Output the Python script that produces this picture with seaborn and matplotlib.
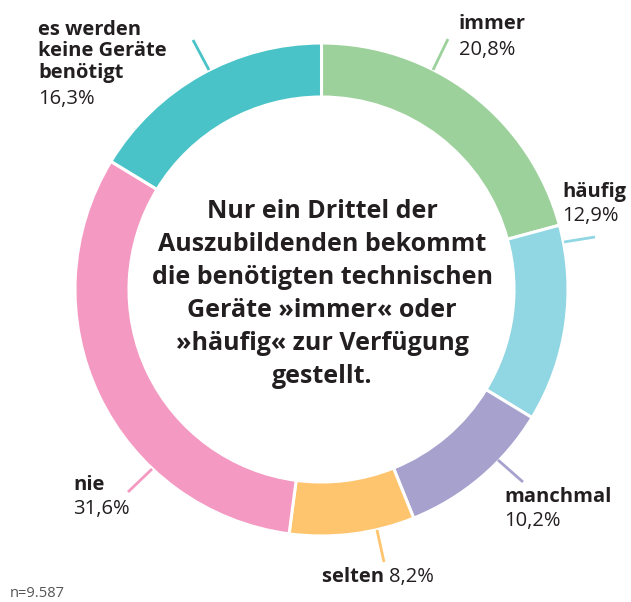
import matplotlib
matplotlib.use("Agg")
from matplotlib import pyplot as plt
import seaborn as sns

# data
categories = ["immer", "häufig", "manchmal", "selten", "nie", "es werden\nkeine Geräte\nbenötigt"]
shares = [20.8, 12.9, 10.2, 8.2, 31.6, 16.3]
share_labels = ["20,8%", "12,9%", "10,2%", "8,2%", "31,6%", "16,3%"]
colors = ["#9dd19c", "#90d6e3", "#a7a1ce", "#fec46e", "#f49ac2", "#4ac3c8"]

center_text = ("Nur ein Drittel der\nAuszubildenden bekommt\ndie benötigten technischen\n"
               "Geräte »immer« oder\n»häufig« zur Verfügung\ngestellt.")
note = "n=9.587"

sns.set_style("white")
plt.rcParams['font.family'] = ['Open Sans', 'DejaVu Sans']

W, H = 631, 602
fig = plt.figure(figsize=(W / 100, H / 100), dpi=100)
ax = fig.add_axes([0, 0, 1, 1])


def py(y):
    # pixel row (from the top) to data y
    return H - y


ax.pie(shares, colors=colors, startangle=90, counterclock=False,
       center=(321.5, py(289.5)), radius=246.5, frame=True,
       wedgeprops=dict(width=54, edgecolor='white', linewidth=2.2))
ax.set_xlim(0, W)
ax.set_ylim(0, H)
ax.set_aspect('equal')
ax.axis('off')

dark = "#231f20"
fs = 14.5

# leader lines
leaders = [((433, 70), (448, 39)), ((564, 242), (595, 237)), ((498, 460), (523, 482)),
           ((377, 530), (384, 562)), ((152, 469), (128, 492)), ((193, 40), (209, 70))]
for (p0, p1), c in zip(leaders, colors):
    ax.plot([p0[0], p1[0]], [py(p0[1]), py(p1[1])], color=c, lw=2, solid_capstyle='butt')

# two-line labels: name bold, value regular
ax.text(459, py(29), categories[0], fontsize=fs, fontweight='bold', color=dark)
ax.text(459, py(55), share_labels[0], fontsize=fs, color=dark)
ax.text(562, py(197), categories[1], fontsize=fs, fontweight='bold', color=dark)
ax.text(562, py(221), share_labels[1], fontsize=fs, color=dark)
ax.text(504, py(502), categories[2], fontsize=fs, fontweight='bold', color=dark)
ax.text(504, py(526), share_labels[2], fontsize=fs, color=dark)
t = ax.text(322, py(582), categories[3] + " ", fontsize=fs, fontweight='bold', color=dark)
ax.annotate(share_labels[3], xycoords=t, xy=(1, 0), va='bottom', fontsize=fs, color=dark,
            annotation_clip=False)
ax.text(73, py(490), categories[4], fontsize=fs, fontweight='bold', color=dark)
ax.text(73, py(514), share_labels[4], fontsize=fs, color=dark)
ax.text(38, py(78), categories[5], fontsize=fs, fontweight='bold', color=dark,
        va='baseline', linespacing=1.11)
ax.text(38, py(104), share_labels[5], fontsize=fs, color=dark)

ax.text(322, py(294), center_text, fontsize=18, fontweight='bold', color=dark,
        ha='center', va='center', linespacing=1.43)

ax.text(10, py(597), note, fontsize=10.5, color="#555555")

plt.savefig("out.png", dpi=100)
